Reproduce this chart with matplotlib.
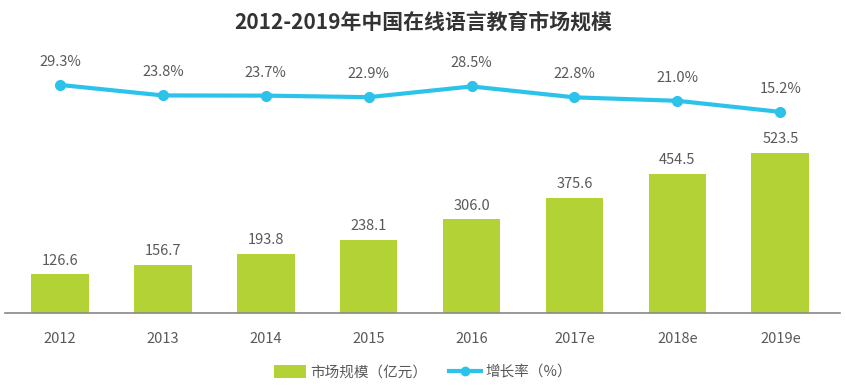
import matplotlib.pyplot as plt
from matplotlib.lines import Line2D
from matplotlib.patches import Patch

plt.rcParams['font.family'] = ['Noto Sans CJK SC', 'DejaVu Sans']

years = ['2012', '2013', '2014', '2015', '2016', '2017e', '2018e', '2019e']
market_size = [126.6, 156.7, 193.8, 238.1, 306.0, 375.6, 454.5, 523.5]
growth_rate = [29.3, 23.8, 23.7, 22.9, 28.5, 22.8, 21.0, 15.2]

BAR_COLOR = '#B2D235'
LINE_COLOR = '#2CC3EA'
TEXT_COLOR = '#595959'

fig = plt.figure(figsize=(8.46, 3.86), dpi=100)
# axes spans x 5..840 px, y 60..313 px (from top)
ax = fig.add_axes([5 / 846, 73 / 386, 835 / 846, 253 / 386])
x = list(range(len(years)))

ax.bar(x, market_size, width=0.56, color=BAR_COLOR, zorder=2)
for xi, v in zip(x, market_size):
    ax.text(xi, v + 45, f'{v:.1f}', ha='center', va='center',
            fontsize=10.5, color=TEXT_COLOR)
ax.set_ylim(0, 827)
ax.set_xlim(-0.534, 7.58)

for side in ['top', 'right', 'left']:
    ax.spines[side].set_visible(False)
ax.spines['bottom'].set_color('#888888')
ax.spines['bottom'].set_linewidth(1.2)
ax.set_yticks([])
ax.set_xticks(x)
ax.set_xticklabels(years, fontsize=10.5, color=TEXT_COLOR)
ax.tick_params(axis='x', length=0, pad=14)

ax2 = ax.twinx()
ax2.plot(x, growth_rate, color=LINE_COLOR, linewidth=3, marker='o',
         markersize=7, zorder=3)
for xi, v in zip(x, growth_rate):
    ax2.text(xi, v + 12, f'{v:.1f}%', ha='center', va='center',
             fontsize=10.5, color=TEXT_COLOR)
ax2.set_ylim(-89.8, 42.3)
ax2.axis('off')

fig.text(0.5, 0.943, '2012-2019年中国在线语言教育市场规模', ha='center', va='center',
         fontsize=15, fontweight='bold', color='#333333')

handles = [
    Patch(facecolor=BAR_COLOR, label='市场规模（亿元）'),
    Line2D([0], [0], color=LINE_COLOR, linewidth=3, marker='o', markersize=6,
           label='增长率（%）'),
]
fig.legend(handles=handles, loc='center', bbox_to_anchor=(0.5, 0.035), ncol=2,
           frameon=False, fontsize=10.5, labelcolor=TEXT_COLOR,
           handlelength=2.2, handleheight=1.0, columnspacing=1.5, handletextpad=0.3)

plt.savefig('out.png', dpi=100)
plt.close()
